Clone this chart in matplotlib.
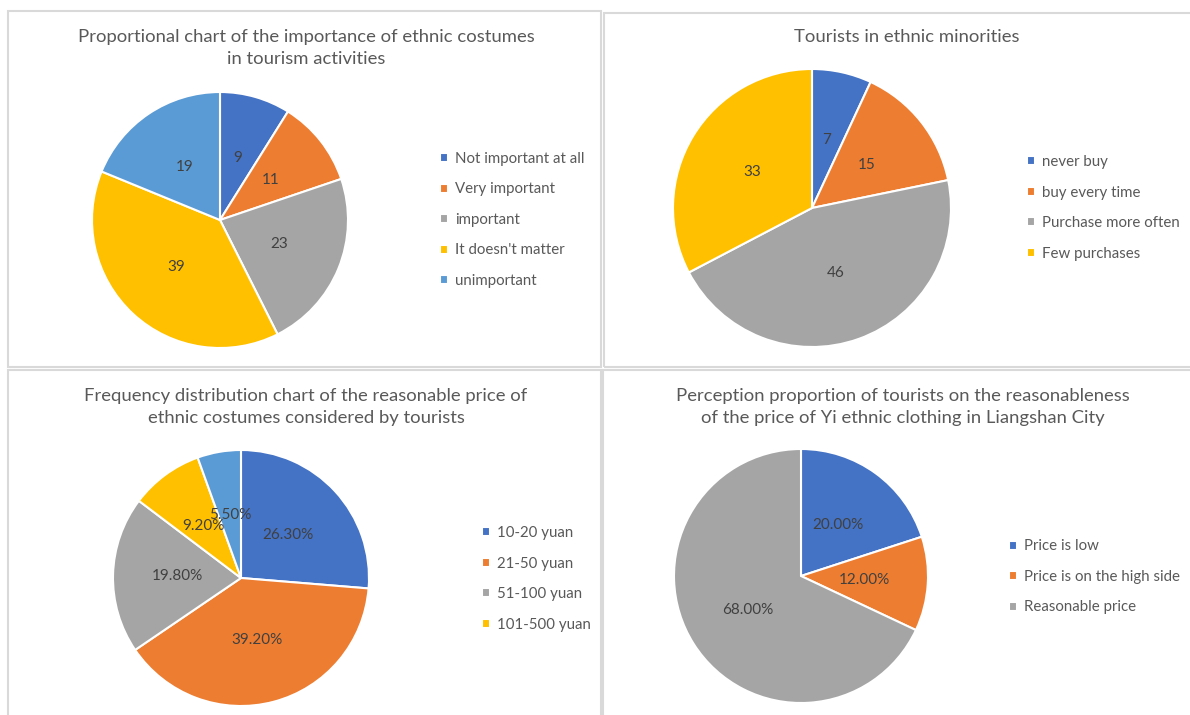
import matplotlib
matplotlib.use("Agg")
import matplotlib.pyplot as plt
from matplotlib.patches import Rectangle

plt.rcParams['font.family'] = ['Lato', 'DejaVu Sans']

# -----------------------------
# DATA
# -----------------------------
title1 = "Proportional chart of the importance of ethnic costumes\nin tourism activities"
labels1 = ["Not important at all", "Very important", "important", "It doesn't matter", "unimportant"]
values1 = [9, 11, 23, 39, 19]

title2 = "Tourists in ethnic minorities"
labels2 = ["never buy", "buy every time", "Purchase more often", "Few purchases"]
values2 = [7, 15, 46, 33]

title3 = "Frequency distribution chart of the reasonable price of\nethnic costumes considered by tourists"
labels3 = ["10-20 yuan", "21-50 yuan", "51-100 yuan", "101-500 yuan", ""]
values3 = [26.3, 39.2, 19.8, 9.2, 5.5]

title4 = "Perception proportion of tourists on the reasonableness\nof the price of Yi ethnic clothing in Liangshan City"
labels4 = ["Price is low", "Price is on the high side", "Reasonable price"]
values4 = [20.0, 12.0, 68.0]

colors = ['#4472C4', '#ED7D31', '#A5A5A5', '#FFC000', '#5B9BD5']

W, H = 1190, 715
TXT = '#595959'
LBL = '#404040'

fig = plt.figure(figsize=(W / 100, H / 100), dpi=100)
fig.patch.set_facecolor('white')

# panel frames (pixel coords: x0, y0, x1, y1)
for x0, y0, x1, y1 in [(8, 11, 601, 367), (604, 13, 1192, 367),
                       (8, 370, 601, 718), (603, 370, 1192, 718)]:
    fig.patches.append(Rectangle((x0 / W, 1 - y1 / H), (x1 - x0) / W, (y1 - y0) / H,
                                 transform=fig.transFigure, fill=False,
                                 edgecolor='#D9D9D9', linewidth=1.5))


def draw_pie(cx, cy, r, values, labels, fmt, title, tx, ty, lx, ly, nleg):
    ax = fig.add_axes([(cx - r) / W, 1 - (cy + r) / H, 2 * r / W, 2 * r / H])
    wedges, texts = ax.pie(values, colors=colors[:len(values)], startangle=90,
                           counterclock=False, labels=[fmt(v) for v in values],
                           labeldistance=0.5,
                           wedgeprops=dict(edgecolor='white', linewidth=1.5),
                           textprops=dict(color=LBL, fontsize=11, ha='center', va='center'))
    ax.set_xlim(-1, 1)
    ax.set_ylim(-1, 1)
    ax.axis('off')
    fig.text(tx / W, 1 - ty / H, title, ha='center', va='center', fontsize=13.3,
             color=TXT, linespacing=1.45)
    fig.legend(wedges[:nleg], labels[:nleg], loc='center left',
               bbox_to_anchor=(lx / W, 1 - ly / H), frameon=False,
               handlelength=0.55, handleheight=0.55, handletextpad=0.45,
               labelspacing=1.1, borderpad=0, borderaxespad=0,
               prop=dict(size=10.8), labelcolor=TXT)
    return ax


draw_pie(220, 220, 128, values1, labels1, lambda v: f"{v:g}", title1, 306, 48, 440, 220, 5)
draw_pie(812, 208, 139, values2, labels2, lambda v: f"{v:g}", title2, 907, 37, 1027, 208, 4)
draw_pie(241, 578, 128, values3, labels3, lambda v: f"{v:.2f}%", title3, 306, 407, 482, 579, 4)
draw_pie(801, 576, 127, values4, labels4, lambda v: f"{v:.2f}%", title4, 903, 407, 1009, 577, 3)

fig.savefig("out.png", dpi=100)
